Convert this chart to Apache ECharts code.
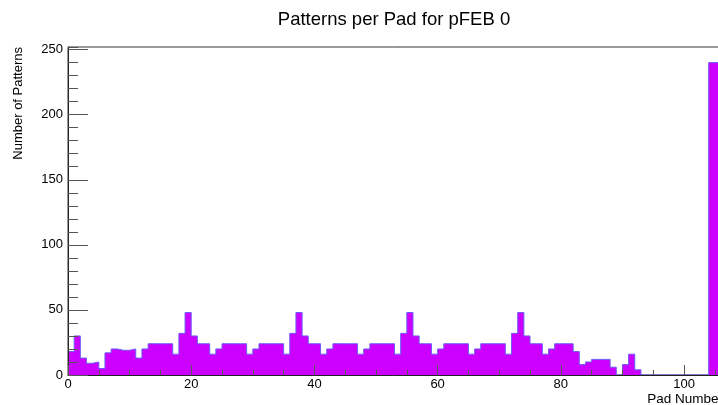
<!DOCTYPE html>
<html><head><meta charset="utf-8">
<script src="https://cdn.jsdelivr.net/npm/echarts@6/dist/echarts.min.js"></script>
<style>html,body{margin:0;padding:0;background:#fff}#c{width:718px;height:405px}</style>
</head><body><div id="c"></div>
<script>
const titleText = 'Patterns per Pad for pFEB 0';
const xTitle = 'Pad Number';
const yTitle = 'Number of Patterns';
// entries per pad (bin width 1, bins start at 0)
const padCounts = [
  18, 30, 13, 9, 10, 5, 17, 20, 19, 19,
  20, 13, 20, 24, 24, 24, 24, 16, 32, 48,
  30, 24, 24, 16, 20, 24, 24, 24, 24, 16,
  20, 24, 24, 24, 24, 16, 32, 48, 30, 24,
  24, 16, 20, 24, 24, 24, 24, 16, 20, 24,
  24, 24, 24, 16, 32, 48, 30, 24, 24, 16,
  20, 24, 24, 24, 24, 16, 20, 24, 24, 24,
  24, 16, 32, 48, 30, 24, 24, 16, 20, 24,
  24, 24, 18, 8, 10, 12, 12, 12, 6, 0,
  8, 16, 4, 0, 0, 0, 0, 0, 0, 0,
  0, 0, 0, 0, 240, 240
];
const xRange = [0, 106];
const yRange = [0, 252];
const xMajor = 20, xMinor = 5, yMajor = 50, yMinor = 10;

const stepData = padCounts.map((v, i) => [i, v]);
stepData.push([padCounts.length, padCounts[padCounts.length - 1]]);

const FONT = 'Liberation Sans';
const chart = echarts.init(document.getElementById('c'), null, {renderer: 'canvas'});
const axBase = {type: 'value', splitLine: {show: false}, z: 10};
chart.setOption({
  animation: false,
  backgroundColor: '#fff',
  title: {
    text: titleText, left: 394, top: 10, textAlign: 'center', padding: 0,
    textStyle: {fontSize: 18.5, fontWeight: 'normal', fontFamily: FONT, color: '#000'}
  },
  grid: {left: 68, right: -3, top: 47, bottom: 30, show: true, borderColor: '#333', borderWidth: 1,
    containLabel: false, outerBoundsMode: 'none'},
  xAxis: [
    Object.assign({}, axBase, {
      min: xRange[0], max: xRange[1], interval: xMajor, position: 'bottom',
      axisLine: {show: true, lineStyle: {color: '#222', width: 1}},
      axisTick: {show: true, inside: true, length: 10, lineStyle: {color: '#555'}},
      axisLabel: {margin: 3, fontSize: 13, color: '#000', fontFamily: FONT, showMaxLabel: false}
    }),
    Object.assign({}, axBase, {
      min: xRange[0], max: xRange[1], interval: xMinor, position: 'bottom', offset: 0,
      axisLine: {show: false},
      axisTick: {show: true, inside: true, length: 5, lineStyle: {color: '#555'}},
      axisLabel: {show: false}
    })
  ],
  yAxis: [
    Object.assign({}, axBase, {
      min: yRange[0], max: yRange[1], interval: yMajor, position: 'left',
      axisLine: {show: true, lineStyle: {color: '#222', width: 1}},
      axisTick: {show: true, inside: true, length: 20, lineStyle: {color: '#555'}},
      axisLabel: {margin: 5, fontSize: 13, color: '#000', fontFamily: FONT, showMaxLabel: false}
    }),
    Object.assign({}, axBase, {
      min: yRange[0], max: yRange[1], interval: yMinor, position: 'left', offset: 0,
      axisLine: {show: false},
      axisTick: {show: true, inside: true, length: 10, lineStyle: {color: '#555'}},
      axisLabel: {show: false}
    })
  ],
  series: [{
    type: 'line', step: 'end', xAxisIndex: 0, yAxisIndex: 0,
    data: stepData, symbol: 'none', z: 2,
    lineStyle: {color: '#6d5cf5', width: 1},
    areaStyle: {color: '#cc00ff', opacity: 1}
  }],
  graphic: [
    {type: 'text', x: 18, y: 47, rotation: Math.PI / 2,
      style: {text: yTitle, fontSize: 13, fontFamily: FONT, fill: '#000', align: 'right', verticalAlign: 'middle'}},
    {type: 'text', x: 723, y: 399,
      style: {text: xTitle, fontSize: 13.5, fontFamily: FONT, fill: '#000', align: 'right', verticalAlign: 'middle'}}
  ]
});
</script></body></html>
